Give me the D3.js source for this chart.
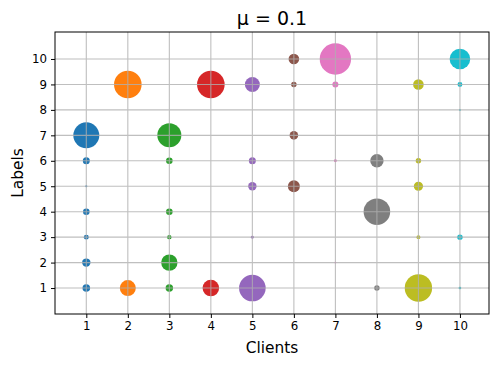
<!DOCTYPE html>
<html>
<head>
<meta charset="utf-8">
<script src="https://cdn.jsdelivr.net/npm/d3@7"></script>
<style>
  html, body { margin: 0; padding: 0; background: #fff; }
  svg { display: block; font-family: "DejaVu Sans", sans-serif; }
</style>
</head>
<body>
<svg id="chart" width="498" height="365"></svg>
<script>
// ---- data ----
const title = "μ = 0.1";
const clientTicks = [1, 2, 3, 4, 5, 6, 7, 8, 9, 10];
const labelTicks = [1, 2, 3, 4, 5, 6, 7, 8, 9, 10];
// one entry per bubble: client, label, sample count
const pointClient = [1,1,1,1,1,1,1, 2,2, 3,3,3,3,3,3, 4,4, 5,5,5,5,5, 6,6,6,6, 7,7,7,7, 8,8,8, 9,9,9,9,9, 10,10,10,10,10];
const pointLabel  = [7,6,5,4,3,2,1, 9,1, 7,6,4,3,2,1, 9,1, 9,6,5,3,1, 10,9,7,5, 10,9,6,2, 6,4,1, 9,6,5,3,1, 10,9,8,3,1];
const pointCount  = [686,50,4,44,25,72,59, 773,260, 585,44,44,20,273,56, 773,280, 228,50,72,9,718, 114,30,75,146, 1000,37,9,3, 182,718,30, 114,30,86,16,762, 430,25,4,30,7];

// ---- layout ----
const svg = d3.select("#chart");
const L = 55, R = 489, T = 32, B = 314;

const x = d3.scaleLinear().domain([0.246, 10.70]).range([L, R]);
const y = d3.scaleLinear().domain([-0.02, 11.06]).range([B, T]);
const r = d3.scaleSqrt().domain([0, 1000]).range([0, 15.7]);
const color = d3.scaleOrdinal().domain(clientTicks).range(d3.schemeCategory10);

const points = pointClient.map((c, i) => ({ c, l: pointLabel[i], v: pointCount[i] }));

// bubbles
svg.append("g")
  .selectAll("circle")
  .data(points)
  .join("circle")
  .attr("cx", d => x(d.c))
  .attr("cy", d => y(d.l))
  .attr("r", d => r(d.v))
  .attr("fill", d => color(d.c));

// grid (drawn above the bubbles, as in the reference)
const grid = svg.append("g").attr("stroke", "#b0b0b0").attr("stroke-width", 1.1).attr("opacity", 0.8);
grid.selectAll("line.gx").data(clientTicks).join("line")
  .attr("x1", d => x(d)).attr("x2", d => x(d)).attr("y1", T).attr("y2", B);
grid.selectAll("line.gy").data(labelTicks).join("line")
  .attr("y1", d => y(d)).attr("y2", d => y(d)).attr("x1", L).attr("x2", R);

// axes
const xAxis = d3.axisBottom(x).tickValues(clientTicks).tickSize(4).tickPadding(4).tickSizeOuter(0);
const yAxis = d3.axisLeft(y).tickValues(labelTicks).tickSize(4).tickPadding(4).tickSizeOuter(0);

const gx = svg.append("g").attr("transform", `translate(0,${B})`).call(xAxis);
const gy = svg.append("g").attr("transform", `translate(${L},0)`).call(yAxis);
[gx, gy].forEach(g => {
  g.select(".domain").remove();
  g.selectAll(".tick line").attr("stroke", "#000").attr("stroke-width", 1);
  g.selectAll(".tick text").attr("fill", "#000").style("font-size", "11.8px").style("font-family", "DejaVu Sans");
});

// frame
svg.append("rect")
  .attr("x", L).attr("y", T).attr("width", R - L).attr("height", B - T)
  .attr("fill", "none").attr("stroke", "#000").attr("stroke-width", 1);

// titles
svg.append("text")
  .attr("x", (L + R) / 2).attr("y", 25)
  .attr("text-anchor", "middle")
  .style("font-size", "19px")
  .text(title);

svg.append("text")
  .attr("x", (L + R) / 2).attr("y", 353)
  .attr("text-anchor", "middle")
  .style("font-size", "15.4px")
  .text("Clients");

svg.append("text")
  .attr("transform", `translate(23,${(T + B) / 2}) rotate(-90)`)
  .attr("text-anchor", "middle")
  .style("font-size", "15.4px")
  .text("Labels");
</script>
</body>
</html>
